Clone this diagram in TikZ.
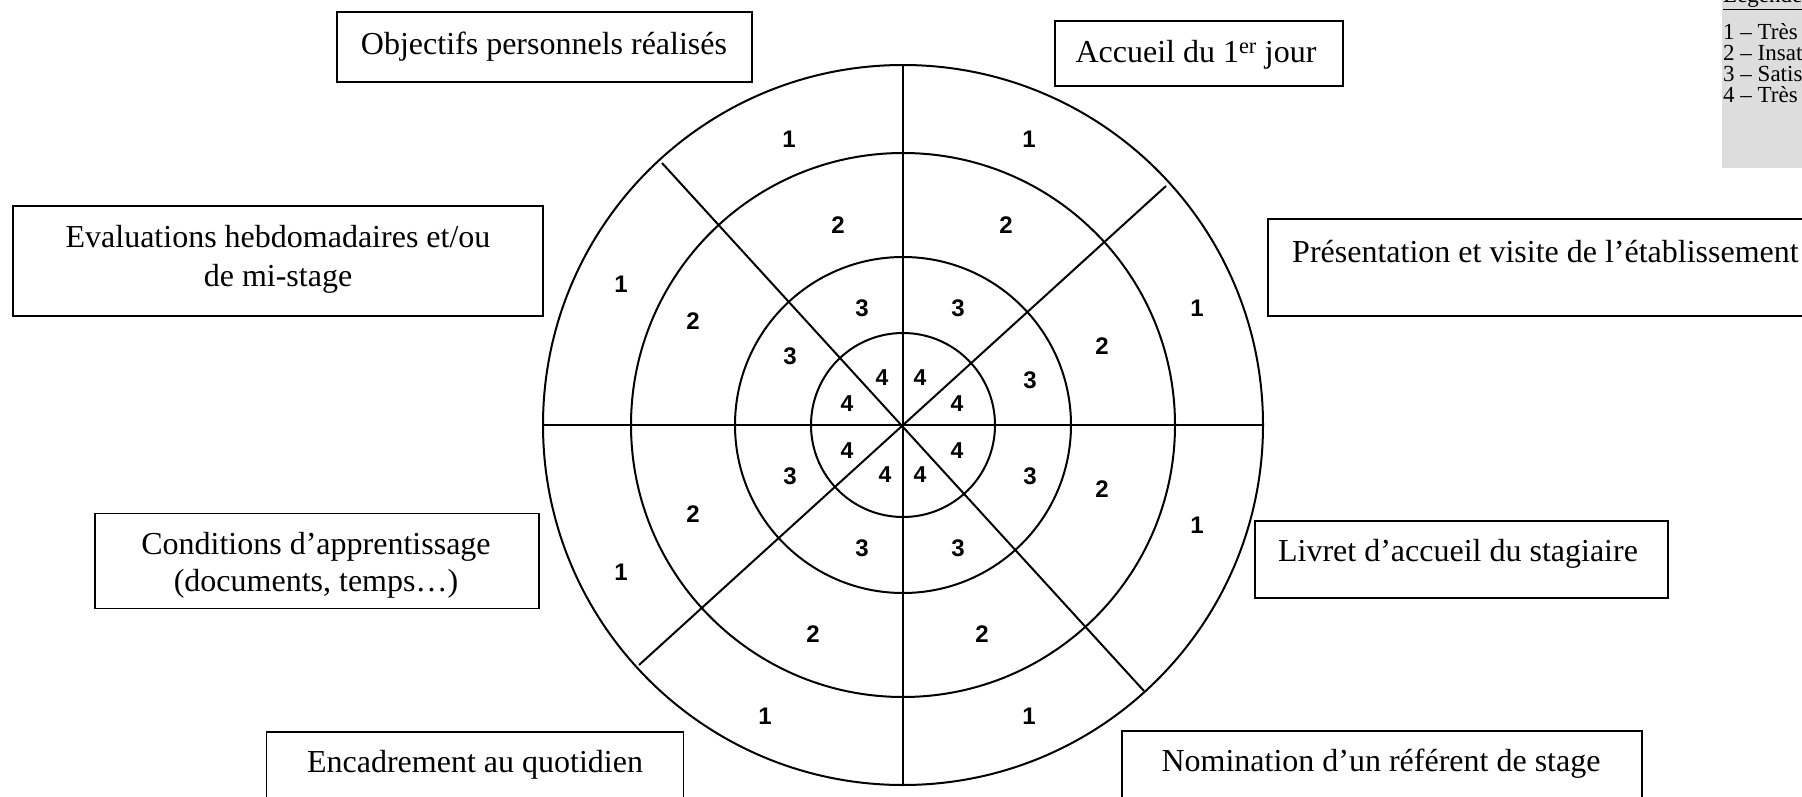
\documentclass[tikz,border=0pt]{standalone}
\usepackage{fontspec}
\setmainfont{Liberation Serif}
\newfontfamily\digfont{Liberation Sans}
\definecolor{legendgray}{RGB}{221,221,221}
\tikzset{
  box/.style={draw, line width=1.4pt, rectangle, inner sep=0pt, outer sep=0pt},
  lbl/.style={font=\fontsize{32}{38}\selectfont, inner sep=0pt, anchor=base},
  lblw/.style={font=\fontsize{32}{38}\selectfont, inner sep=0pt, anchor=base west},
  dig/.style={font=\digfont\bfseries\fontsize{24}{24}\selectfont, inner sep=0pt},
  digs/.style={font=\digfont\bfseries\fontsize{23}{23}\selectfont, inner sep=0pt},
  ring/.style={line width=2pt},
  leg/.style={font=\fontsize{23}{23}\selectfont, inner sep=0pt, anchor=base west},
}
\begin{document}
\begin{tikzpicture}[x=1pt,y=-1pt]
\useasboundingbox (0,0) rectangle (1802,797);

% legend
\node[fill=legendgray, inner sep=0pt, minimum width=92pt, minimum height=175pt] (legbox) at (1768,81) {};
\node[leg] (legT) at (1723,3) {\underline{Légende}};
\node[leg] (leg1) at (1723,39.5) {1 – Très insatisfaisant};
\node[leg] (leg2) at (1723,60.5) {2 – Insatisfaisant};
\node[leg] (leg3) at (1723,81.5) {3 – Satisfaisant};
\node[leg] (leg4) at (1723,102.5) {4 – Très satisfaisant};

% boxes
\node[box, minimum width=415pt, minimum height=70pt] (bObj) at (544.5,47) {};
\node[lbl] (tObj) at (544,55) {Objectifs personnels réalisés};

\node[box, minimum width=288pt, minimum height=65pt] (bAcc) at (1199,53.5) {};
\node[lbl] (tAcc) at (1196,63) {Accueil du 1\textsuperscript{er} jour};

\node[box, minimum width=530pt, minimum height=110pt] (bEva) at (278,261) {};
\node[lbl] (tEva1) at (278,247) {Evaluations hebdomadaires et/ou};
\node[lbl] (tEva2) at (278,286.5) {de mi-stage};

\node[box, minimum width=600pt, minimum height=97pt] (bPre) at (1568,267.5) {};
\node[lblw] (tPre) at (1292,262) {Présentation et visite de l’établissement};

\node[box, minimum width=444pt, minimum height=95pt] (bCon) at (317,561) {};
\node[lbl] (tCon1) at (316,554.5) {Conditions d’apprentissage};
\node[lbl] (tCon2) at (316,591) {(documents, temps…)};

\node[box, minimum width=413pt, minimum height=77pt] (bLiv) at (1461.5,559.5) {};
\node[lbl] (tLiv) at (1458,561) {Livret d’accueil du stagiaire};

\node[box, minimum width=417pt, minimum height=90pt] (bEnc) at (475,777) {};
\node[lbl] (tEnc) at (475,772) {Encadrement au quotidien};

\node[box, minimum width=520pt, minimum height=90pt] (bNom) at (1382,776) {};
\node[lbl] (tNom) at (1381,771) {Nomination d’un référent de stage};

% target
\coordinate (c) at (903,425);
\draw[ring] (c) circle[radius=360pt];
\draw[ring] (c) circle[radius=272pt];
\draw[ring] (c) circle[radius=168pt];
\draw[ring] (c) circle[radius=92pt];

\coordinate (hL) at (543,425);
\coordinate (hR) at (1263,425);
\coordinate (vT) at (903,65);
\coordinate (vB) at (903,785);
\coordinate (dNE) at (1166,186);
\coordinate (dSW) at (639,665);
\coordinate (dNW) at (662,163);
\coordinate (dSE) at (1144,691);
\draw[ring] (hL) -- (hR);
\draw[ring] (vT) -- (vB);
\draw[ring] (dNE) -- (dSW);
\draw[ring] (dNW) -- (dSE);

% ratings
\foreach \x/\y/\t [count=\i] in {
  789/139/1, 1029/139/1, 621/284/1, 1197/308/1, 621/572/1, 1197/525/1, 765/716/1, 1029/716/1,
  838/225/2, 1006/225/2, 693/321/2, 1102/346/2, 693/514/2, 1102/489/2, 813/634/2, 982/634/2,
  862/308/3, 958/308/3, 790/356/3, 1030/380/3, 790/476/3, 1030/476/3, 862/548/3, 958/548/3}
  {\node[dig] (d\i) at (\x,\y) {\t};}
\foreach \x/\y [count=\i] in {
  882/378, 920/378, 847/404, 957/404, 847/451, 957/451, 885/475, 920/475}
  {\node[digs] (q\i) at (\x,\y) {4};}
\end{tikzpicture}
\end{document}
